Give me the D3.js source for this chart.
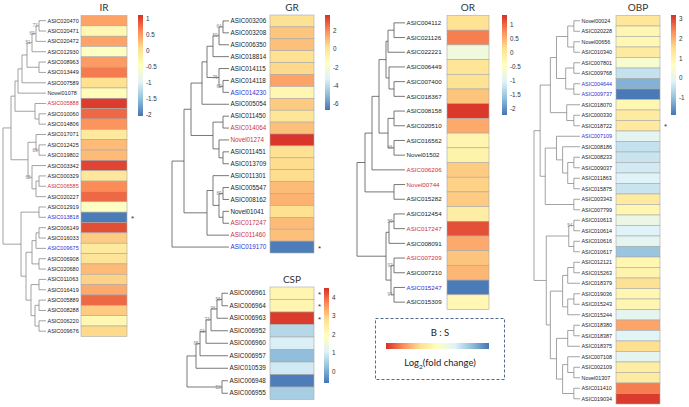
<!DOCTYPE html>
<html>
<head>
<meta charset="UTF-8">
<script src="https://d3js.org/d3.v7.min.js"></script>
<style>
  body { margin: 0; background: #fff; }
  text { font-family: "Liberation Sans", Arial, sans-serif; }
  .title, .legend-text { font-family: Lato, "Open Sans", sans-serif; }
</style>
</head>
<body>
<div id="chart"></div>
<script>
// ---- data ----
const palette = ["#4575b4", "#91bfdb", "#e0f3f8", "#ffffbf", "#fee090", "#fc8d59", "#d73027"];

const irGenes = ["ASIC020470", "ASIC020471", "ASIC020472", "ASIC012930", "ASIC008963", "ASIC013449", "ASIC007589", "Novel01078",
  "ASIC005888", "ASIC010060", "ASIC014806", "ASIC017071", "ASIC012425", "ASIC019802", "ASIC003342", "ASIC000329",
  "ASIC006585", "ASIC020227", "ASIC012919", "ASIC013818", "ASIC006149", "ASIC016033", "ASIC009675", "ASIC006908",
  "ASIC020680", "ASIC011063", "ASIC016419", "ASIC005889", "ASIC008288", "ASIC006220", "ASIC009676"];
const irValues = [0.45, -0.35, 0.45, -0.5, 0.5, 0.7, 0.05, -0.4, 1.05, 0.8, 0.55, -0.1, 0.3, 0.3, 1.0, -0.05,
  0.6, 0.8, -0.5, -2.0, 0.95, 0.2, -0.1, 0.0, 0.3, 0.15, 0.4, 0.8, 0.2, -0.35, 0.1];
const irRed = ["ASIC005888", "ASIC006585"];
const irBlue = ["ASIC013818", "ASIC009675"];
const irStars = ["ASIC013818"];
const irRange = [-2.05, 1.12];
const irTicks = [1, 0.5, 0, -0.5, -1, -1.5, -2];
// tree nodes: [height, child, child, bootstrap?]
const irTree = [43,
  [35,
    [31,
      [28, [24, [19, [14, [10, [7, "ASIC020470", "ASIC020471", 73], "ASIC020472", 69], "ASIC012930", 51],
        [7, "ASIC008963", "ASIC013449"]], "ASIC007589"], "Novel01078"],
      [11, "ASIC005888", [7, "ASIC010060", "ASIC014806"]]],
    [18, [10, "ASIC017071", [7, "ASIC012425", "ASIC019802", 86]],
      [14, "ASIC003342", [10, [7, "ASIC000329", "ASIC006585"], "ASIC020227"], 65]]],
  [25, [7, "ASIC012919", "ASIC013818"],
    [20, [14, [10, [7, "ASIC006149", "ASIC016033"], "ASIC009675"], [7, "ASIC006908", "ASIC020680"]],
      [15, [7, "ASIC011063", "ASIC016419"], [11, [7, "ASIC005889", "ASIC008288"], [7, "ASIC006220", "ASIC009676"]]]]]];

const grGenes = ["ASIC003206", "ASIC003208", "ASIC006350", "ASIC018814", "ASIC014115", "ASIC014118", "ASIC014230", "ASIC005054",
  "ASIC011450", "ASIC014064", "Novel01274", "ASIC011451", "ASIC013709", "ASIC011301", "ASIC005547", "ASIC008162",
  "Novel01041", "ASIC017247", "ASIC011460", "ASIC019170"];
const grValues = [0.1, 0.8, 0.9, 0.2, 0.4, 1.5, -1.0, 0.7, -0.1, 0.9, 3.6, 0.1, 0.3, 0.3, 1.0, 1.2, 0.2, 1.0, 0.9, -6.5];
const grRed = ["ASIC014064", "Novel01274", "ASIC017247", "ASIC011460"];
const grBlue = ["ASIC014230", "ASIC019170"];
const grStars = ["ASIC019170"];
const grRange = [-6.7, 3.7];
const grTicks = [2, 0, -2, -4, -6];
const grTree = [57,
  [45,
    [38,
      [27, [22, [16, [10, [6, "ASIC003206", "ASIC003208", 64], "ASIC006350", 59], "ASIC018814"],
        [10, "ASIC014115", [6, "ASIC014118", "ASIC014230", 62], 76]], "ASIC005054"],
      [16, [6, "ASIC011450", "ASIC014064"], [10, "Novel01274", [6, "ASIC011451", "ASIC013709"]]]],
    [22, [16, "ASIC011301", [10, [6, "ASIC005547", "ASIC008162", 89], [6, "Novel01041", "ASIC017247"]]], "ASIC011460"]],
  "ASIC019170"];

const orGenes = ["ASIC004112", "ASIC021126", "ASIC022221", "ASIC006449", "ASIC007400", "ASIC018367", "ASIC008158", "ASIC020510",
  "ASIC016562", "Novel01502", "ASIC006206", "Novel00744", "ASIC015282", "ASIC012454", "ASIC017247", "ASIC008091",
  "ASIC007209", "ASIC007210", "ASIC015247", "ASIC015309"];
const orValues = [0.1, 0.85, -0.75, 0.05, 0.1, 0.35, 1.3, 0.55, -0.25, -0.2, 0.3, 0.25, 0.3, -0.1, 1.15, 0.55, 0.35, 0.45, -2.2, -0.3];
const orRed = ["ASIC006206", "Novel00744", "ASIC017247", "ASIC007209"];
const orBlue = ["ASIC015247"];
const orStars = [];
const orRange = [-2.25, 1.35];
const orTicks = [1, 0.5, 0, -0.5, -1, -1.5, -2];
const orTree = [48,
  [40,
    [33,
      [26, [19, [17, [11, "ASIC004112", "ASIC021126"], "ASIC022221"], [16, "ASIC006449", [11, "ASIC007400", "ASIC018367"]]],
        [17, [11, "ASIC008158", "ASIC020510"], [11, "ASIC016562", "Novel01502", 66]]],
      "ASIC006206"],
    [11, "Novel00744", "ASIC015282"]],
  [19, [16, [11, "ASIC012454", "ASIC017247", 59], "ASIC008091"],
    [14, [11, "ASIC007209", "ASIC007210", 92], [11, "ASIC015247", "ASIC015309", 94]]]];

const cspGenes = ["ASIC006961", "ASIC006964", "ASIC006963", "ASIC006952", "ASIC006960", "ASIC006957", "ASIC010539", "ASIC006948", "ASIC006955"];
const cspValues = [2.2, 2.2, 4.4, 0.6, 1.0, 0.2, 0.9, -0.55, 0.45];
const cspRed = [];
const cspBlue = [];
const cspStars = ["ASIC006961", "ASIC006964", "ASIC006963"];
const cspRange = [-0.65, 4.5];
const cspTicks = [4, 3, 2, 1, 0];
const cspTree = [41,
  [32, [28, [22, [17, [11, [6, "ASIC006961", "ASIC006964", 58], "ASIC006963", 96], "ASIC006952", 73], "ASIC006960", 93], "ASIC006957", 65], "ASIC010539"],
  [6, "ASIC006948", "ASIC006955", 53]];

const obpGenes = ["Novel00024", "ASIC020228", "Novel00656", "ASIC010340", "ASIC007801", "ASIC009768", "ASIC004644", "ASIC009737",
  "ASIC018070", "ASIC000330", "ASIC018722", "ASIC007109", "ASIC008186", "ASIC008233", "ASIC009037", "ASIC011863",
  "ASIC015875", "ASIC003343", "ASIC007799", "ASIC010613", "ASIC010614", "ASIC010616", "ASIC010617", "ASIC012121",
  "ASIC015263", "ASIC018379", "ASIC019036", "ASIC015243", "ASIC015244", "ASIC018380", "ASIC018387", "ASIC018375",
  "ASIC007108", "ASIC002109", "Novel01307", "ASIC011410", "ASIC019034"];
const obpValues = [1.3, 0.9, 0.85, 1.2, 0.4, -0.5, -1.2, -1.85, 0.9, 1.2, 1.25, -0.1, -0.5, -0.45, -0.35, -0.2,
  -0.45, 1.2, 0.9, 0.1, -0.2, -0.1, -0.95, 0.9, 0.95, 1.45, 0.9, 0.9, -0.1, 2.1, -0.15, 1.5,
  -0.1, 1.15, 1.2, 2.5, 3.1];
const obpRed = [];
const obpBlue = ["ASIC004644", "ASIC009737", "ASIC007109"];
const obpStars = ["ASIC018722"];
const obpRange = [-1.9, 3.2];
const obpTicks = [3, 2, 1, 0, -1];
const obpTree = [45,
  [39,
    [29, [23, [12, [6, "Novel00024", "ASIC020228"], [6, "Novel00656", "ASIC010340"]],
        [14, [6, "ASIC007801", "ASIC009768"], [6, "ASIC004644", "ASIC009737"]]],
      [13, "ASIC018070", [6, "ASIC000330", "ASIC018722"]]],
    [34, [23, "ASIC007109", [17, "ASIC008186", [12, [6, "ASIC008233", "ASIC009037"], [6, "ASIC011863", "ASIC015875"]]]],
      [6, "ASIC003343", "ASIC007799"]]],
  [33, [11, [6, "ASIC010613", "ASIC010614", 54], [6, "ASIC010616", "ASIC010617"]],
    [29, [17, [12, [6, "ASIC012121", "ASIC015263"], "ASIC018379"], [12, [6, "ASIC019036", "ASIC015243"], "ASIC015244"]],
      [23, [12, [6, "ASIC018380", "ASIC018387"], "ASIC018375"],
        [17, [12, "ASIC007108", [6, "ASIC002109", "Novel01307"]], [6, "ASIC011410", "ASIC019034"]]]]]];

// ---- layout per panel ----
const panels = [
  { title: "IR", genes: irGenes, values: irValues, tree: irTree, red: irRed, blue: irBlue, stars: irStars,
    range: irRange, ticks: irTicks, rootX: 3, tipX: 46, heatX: 81, heatW: 46, top: 15.5, rowH: 10.35,
    cbX: 138, cbTop: 15, cbBottom: 116, font: 5.5, titleY: 11, line: "#8c8c8c" },
  { title: "GR", genes: grGenes, values: grValues, tree: grTree, red: grRed, blue: grBlue, stars: grStars,
    range: grRange, ticks: grTicks, rootX: 172, tipX: 229, heatX: 270, heatW: 44, top: 15, rowH: 11.9,
    cbX: 325, cbTop: 15, cbBottom: 110, font: 6.3, titleY: 11, line: "#555" },
  { title: "CSP", genes: cspGenes, values: cspValues, tree: cspTree, red: cspRed, blue: cspBlue, stars: cspStars,
    range: cspRange, ticks: cspTicks, rootX: 187, tipX: 228, heatX: 270, heatW: 44, top: 287, rowH: 12.5,
    cbX: 324, cbTop: 288, cbBottom: 383, font: 6.4, titleY: 283, line: "#555" },
  { title: "OR", genes: orGenes, values: orValues, tree: orTree, red: orRed, blue: orBlue, stars: orStars,
    range: orRange, ticks: orTicks, rootX: 357, tipX: 405, heatX: 447, heatW: 42, top: 15.5, rowH: 14.7,
    cbX: 502, cbTop: 15, cbBottom: 115, font: 6.2, titleY: 11, line: "#555" },
  { title: "OBP", genes: obpGenes, values: obpValues, tree: obpTree, red: obpRed, blue: obpBlue, stars: obpStars,
    range: obpRange, ticks: obpTicks, rootX: 534, tipX: 580, heatX: 616, heatW: 44, top: 15.5, rowH: 10.5,
    cbX: 671, cbTop: 15, cbBottom: 115, font: 5.4, titleY: 11, line: "#8c8c8c" }
];

const svg = d3.select("#chart").append("svg")
  .attr("width", 689).attr("height", 407);
const defs = svg.append("defs");

panels.forEach((p, pi) => {
  const g = svg.append("g");
  const y = d3.scaleBand().domain(p.genes).range([p.top, p.top + p.genes.length * p.rowH]);
  const color = d3.scaleLinear()
    .domain(d3.range(7).map(i => p.range[0] + i * (p.range[1] - p.range[0]) / 6))
    .range(palette);
  const xTree = d3.scaleLinear().domain([0, p.tree[0]]).range([p.tipX, p.rootX]);
  const rowY = name => y(name) + y.bandwidth() / 2;

  // dendrogram
  const tg = g.append("g").attr("stroke", p.line).attr("stroke-width", 0.8).attr("fill", "none");
  const bs = g.append("g");
  function drawNode(node) {
    if (typeof node === "string") return { x: xTree(0), y: rowY(node) };
    const rest = node.slice(1);
    const boot = typeof rest[rest.length - 1] === "number" ? rest.pop() : null;
    const kids = rest.map(drawNode);
    const x = xTree(node[0]);
    const ny = (kids[0].y + kids[kids.length - 1].y) / 2;
    tg.append("line").attr("x1", x).attr("x2", x)
      .attr("y1", kids[0].y).attr("y2", kids[kids.length - 1].y);
    kids.forEach(k => tg.append("line").attr("x1", x).attr("x2", k.x).attr("y1", k.y).attr("y2", k.y));
    if (boot !== null) {
      bs.append("text").attr("x", x - 1.5).attr("y", ny + 1.5)
        .attr("text-anchor", "end").attr("font-size", 4.6).attr("fill", "#8a8a8a").text(boot);
    }
    return { x, y: ny };
  }
  drawNode(p.tree);

  // gene labels
  g.append("g").selectAll("text").data(p.genes).join("text")
    .attr("x", p.tipX + 1.5).attr("y", d => rowY(d)).attr("dy", "0.35em")
    .attr("font-size", p.font)
    .attr("fill", d => p.red.includes(d) ? "#d0303a" : p.blue.includes(d) ? "#3030d0" : "#222")
    .text(d => d);

  // heatmap cells
  g.append("g").selectAll("rect").data(p.genes).join("rect")
    .attr("x", p.heatX).attr("y", d => y(d))
    .attr("width", p.heatW).attr("height", y.bandwidth())
    .attr("fill", (d, i) => color(p.values[i]))
    .attr("stroke", "#a8a8a8").attr("stroke-width", 0.6);

  // stars
  g.append("g").selectAll("text").data(p.stars).join("text")
    .attr("x", p.heatX + p.heatW + 4).attr("y", d => rowY(d) + 3.5)
    .attr("font-size", 8).attr("fill", "#333").text("*");

  // title
  g.append("text").attr("class", "title")
    .attr("x", p.heatX + p.heatW / 2).attr("y", p.titleY)
    .attr("text-anchor", "middle").attr("font-size", 10).attr("fill", "#333").text(p.title);

  // colour bar
  const gradId = "cb" + pi;
  const grad = defs.append("linearGradient").attr("id", gradId)
    .attr("x1", 0).attr("y1", 1).attr("x2", 0).attr("y2", 0);
  palette.forEach((c, i) => grad.append("stop").attr("offset", i / 6).attr("stop-color", c));
  g.append("rect").attr("x", p.cbX).attr("y", p.cbTop)
    .attr("width", 5).attr("height", p.cbBottom - p.cbTop).attr("fill", `url(#${gradId})`);
  const cbY = d3.scaleLinear().domain(p.range).range([p.cbBottom, p.cbTop]);
  const ax = g.append("g").attr("transform", `translate(${p.cbX + 5},0)`)
    .call(d3.axisRight(cbY).tickValues(p.ticks).tickSize(0).tickPadding(3).tickFormat(d => String(d)));
  ax.select(".domain").remove();
  ax.selectAll("text").attr("font-size", 6.3).attr("fill", "#333")
    .attr("font-family", "'Liberation Sans', Arial, sans-serif");
});

// legend box
const lg = svg.append("g");
lg.append("rect").attr("x", 375.5).attr("y", 318.5).attr("width", 129).attr("height", 61)
  .attr("fill", "none").attr("stroke", "#56698f").attr("stroke-width", 1).attr("stroke-dasharray", "3,2");
lg.append("text").attr("class", "legend-text").attr("x", 440).attr("y", 336)
  .attr("text-anchor", "middle").attr("font-size", 9.5).attr("fill", "#222").text("B : S");
const lgGrad = defs.append("linearGradient").attr("id", "lgGrad");
palette.slice().reverse().forEach((c, i) => lgGrad.append("stop").attr("offset", i / 6).attr("stop-color", c));
lg.append("rect").attr("x", 386).attr("y", 343).attr("width", 103).attr("height", 6).attr("fill", "url(#lgGrad)");
const lt = lg.append("text").attr("class", "legend-text").attr("x", 440).attr("y", 366)
  .attr("text-anchor", "middle").attr("font-size", 9.5).attr("fill", "#222");
lt.append("tspan").text("Log");
lt.append("tspan").attr("font-size", 6.5).attr("dy", 2.5).text("2");
lt.append("tspan").attr("dy", -2.5).text("(fold change)");
</script>
</body>
</html>
